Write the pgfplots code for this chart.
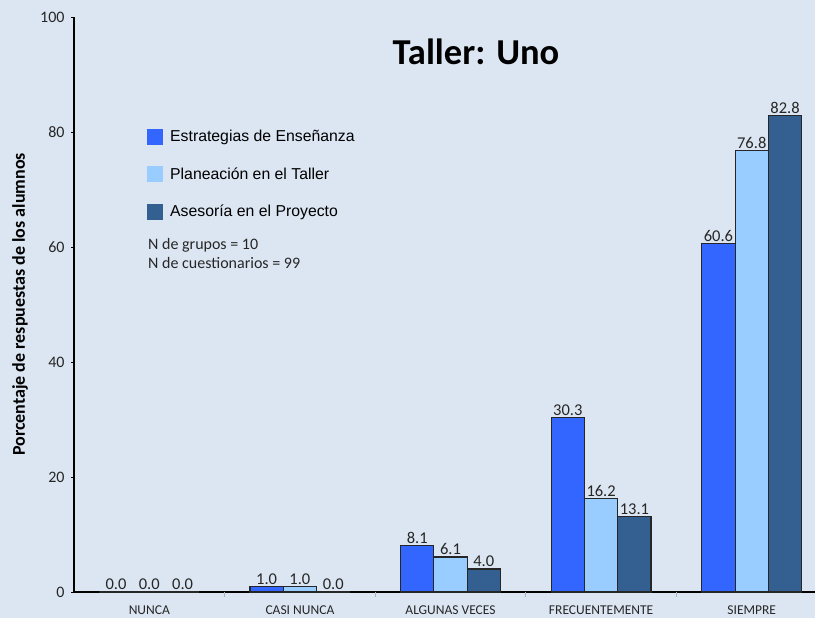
\documentclass[border=0pt]{standalone}
\usepackage{pgfplots}
\pgfplotsset{compat=1.18}
\usepackage{fontspec}
\setmainfont{Carlito}
\newfontfamily\arial{Liberation Sans}
\definecolor{bg}{RGB}{220,230,242}
\definecolor{cA}{RGB}{51,102,255}
\definecolor{cB}{RGB}{153,204,255}
\definecolor{cC}{RGB}{51,96,145}
\begin{document}
\begin{tikzpicture}
\fill[bg] (-74bp,-26bp) rectangle (741bp,592bp);
\useasboundingbox (-74bp,-26bp) rectangle (741bp,592bp);
\begin{axis}[
  at={(0,0)}, anchor=south west,
  scale only axis, width=741bp, height=575bp,
  xmin=-0.5, xmax=4.42, ymin=0, ymax=100,
  axis lines*=left,
  axis line style={black, line width=1.2bp},
  /pgf/number format/assume math mode=true,
  ybar, bar width=0.221,
  ytick={0,20,40,60,80,100},
  ytick align=outside, ytick style={black, line width=0.8bp},
  major tick length=3bp,
  yticklabel style={font=\fontsize{16bp}{18bp}\selectfont, text=black!85, xshift=-3bp},
  xtick={0,1,2,3,4},
  xticklabels={NUNCA,CASI NUNCA,ALGUNAS VECES,FRECUENTEMENTE,SIEMPRE},
  xtick style={draw=none},
  xticklabel style={font=\fontsize{13.5bp}{15bp}\selectfont, text=black!85, yshift=-7bp},
  extra x ticks={0.5,1.5,2.5,3.5},
  extra x tick labels={},
  extra x tick style={every x tick/.style={draw=gray!60, line width=0.8bp}, major tick length=5bp, xtick align=outside},
  ylabel={Porcentaje de respuestas de los alumnos},
  every axis y label/.style={at={(axis description cs:-0.0729,0.5)}, rotate=90, anchor=center, font=\bfseries\fontsize{18bp}{20bp}\selectfont},
  nodes near coords={\pgfmathprintnumber[fixed,fixed zerofill,precision=1]{\pgfplotspointmeta}},
  every node near coord/.append style={font=\fontsize{16.5bp}{18bp}\selectfont, text=black!85, inner sep=1.5bp},
  legend style={at={(axis description cs:0.0985,0.806)}, anchor=north west, draw=none, fill=none,
    font=\arial\fontsize{15.8bp}{18bp}\selectfont, row sep=21.5bp, inner sep=0pt,
    nodes={inner sep=0pt}},
  legend cell align=left,
  legend image code/.code={\fill[#1,draw=none] (0bp,-8bp) rectangle (16bp,8bp);},
  /tikz/every even column/.append style={column sep=0bp},
  clip=false,
]
\addplot[bar shift=-0.221, fill=cA, draw=black!85, line width=1.2bp] coordinates {(0,0) (1,1.0) (2,8.1) (3,30.3) (4,60.6)};
\addlegendentry{\hspace{7bp}Estrategias de Enseñanza}
\addplot[bar shift=0, fill=cB, draw=black!85, line width=1.2bp] coordinates {(0,0) (1,1.0) (2,6.1) (3,16.2) (4,76.8)};
\addlegendentry{\hspace{7bp}Planeación en el Taller}
\addplot[bar shift=0.221, fill=cC, draw=black!85, line width=1.2bp] coordinates {(0,0) (1,0.0) (2,4.0) (3,13.1) (4,82.8)};
\addlegendentry{\hspace{7bp}Asesoría en el Proyecto}
\end{axis}
\node[font=\bfseries\fontsize{36.5bp}{40bp}\selectfont, text=black] at (402bp,540bp) {Taller: Uno};
\node[anchor=base west, inner sep=0pt, font=\fontsize{16bp}{18bp}\selectfont, text=black!85] at (74bp,342bp) {N de grupos = 10};
\node[anchor=base west, inner sep=0pt, font=\fontsize{16bp}{18bp}\selectfont, text=black!85] at (74bp,323bp) {N de cuestionarios = 99};
\end{tikzpicture}
\end{document}
